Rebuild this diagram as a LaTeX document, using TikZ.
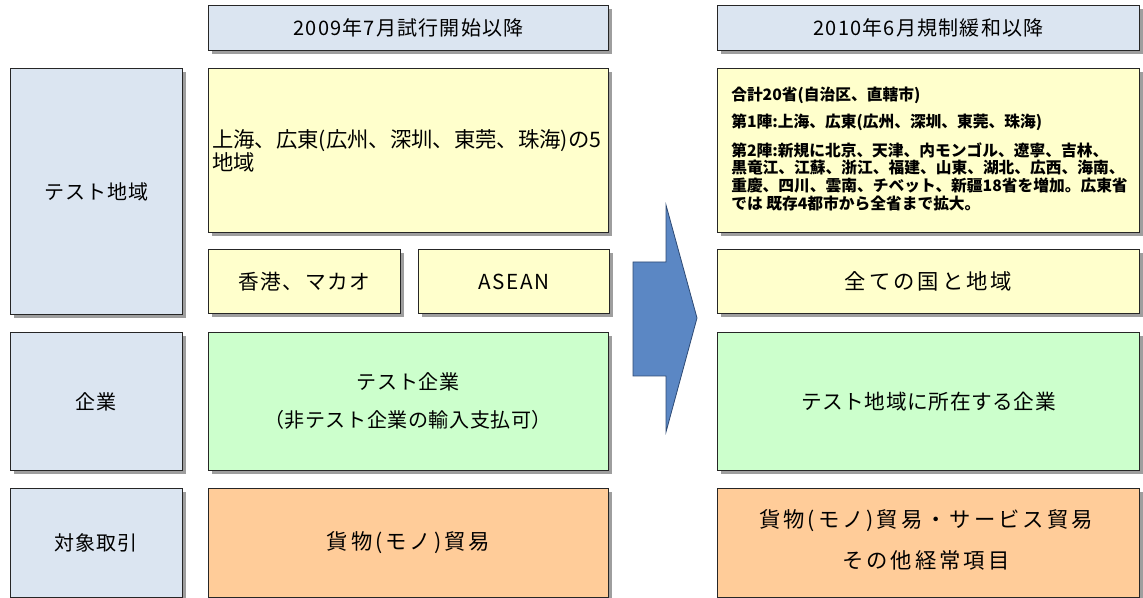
\documentclass[tikz,border=0pt]{standalone}
\usepackage{fontspec}
\setmainfont{Noto Sans CJK JP}
\newfontfamily\jphdr[LetterSpace=6]{Noto Sans CJK JP}
\newfontfamily\jplbl[LetterSpace=5]{Noto Sans CJK JP}
\newfontfamily\jpwide[LetterSpace=14]{Noto Sans CJK JP}
\newfontfamily\jpmed[LetterSpace=8]{Noto Sans CJK JP}
\newfontfamily\jpnarrow[LetterSpace=3]{Noto Sans CJK JP}
\newfontfamily\jpsm{Noto Sans CJK JP}
\usetikzlibrary{shadows}
\definecolor{hdrblue}{HTML}{DBE5F1}
\definecolor{yel}{HTML}{FFFFCC}
\definecolor{grn}{HTML}{CCFFCC}
\definecolor{org}{HTML}{FFCC99}
\definecolor{arrfill}{HTML}{5B87C4}
\definecolor{arrline}{HTML}{2E4A74}
\begin{document}
\begin{tikzpicture}[x=0.75pt,y=-0.75pt,
  bx/.style={draw=black!85, line width=0.7pt, rectangle, inner sep=0pt, anchor=north west,
    drop shadow={shadow xshift=2.4pt, shadow yshift=-2.4pt, fill=black!38, opacity=1}},
  hdr/.style={bx, fill=hdrblue, font=\jphdr\fontsize{15}{18}\selectfont},
  lbl/.style={bx, fill=hdrblue, minimum width=129pt, font=\jplbl\fontsize{15}{18}\selectfont},
  ybox/.style={bx, fill=yel},
  gbox/.style={bx, fill=grn},
  obox/.style={bx, fill=org},
  widetxt/.style={font=\jpwide\fontsize{16}{30.75}\selectfont, align=center},
  medtxt/.style={font=\jpmed\fontsize{15.5}{20}\selectfont, align=center},
  txt/.style={inner sep=0pt}
]
\useasboundingbox (0,0) rectangle (1143,598);
\clip (0,0) rectangle (1143,598);

% left labels
\node[lbl, minimum height=184.5pt] (l1) at (10,68) {テスト地域};
\node[lbl, minimum height=103.5pt] (l2) at (10,332) {企業};
\node[lbl, minimum height=81.75pt] (l3) at (10,488) {対象取引};

% middle column
\node[hdr, minimum width=300pt, minimum height=33.75pt] (h1) at (208,5) {2009年7月試行開始以降};
\node[ybox, minimum width=300pt, minimum height=123pt] (m1) at (208,68) {};
\node[txt, anchor=west, align=left, font=\jpsm\fontsize{16}{15}\selectfont] (m1t) at (212,151)
  {上海、広東(広州、深圳、東莞、珠海)の5\\地域};
\node[ybox, minimum width=144pt, minimum height=48pt, medtxt] (m2) at (208,249) {香港、マカオ};
\node[ybox, minimum width=143.25pt, minimum height=48pt, medtxt] (m3) at (418,249) {ASEAN};
\node[gbox, minimum width=300pt, minimum height=103.5pt] (m4) at (208,332) {};
\node[txt, align=center, font=\jpnarrow\fontsize{15}{28.5}\selectfont] (m4t) at (408,401) {テスト企業\\（非テスト企業の輸入支払可）};
\node[obox, minimum width=300pt, minimum height=81.75pt, widetxt] (m5) at (208,488) {貨物(モノ)貿易};

% arrow
\draw[fill=arrfill, draw=arrline, line width=0.6pt] (633,262) -- (666,262) -- (666,205) -- (697,318)
  -- (666,432) -- (666,376) -- (633,376) -- cycle;

% right column
\node[hdr, minimum width=316.5pt, minimum height=33.75pt] (h2) at (717,5) {2010年6月規制緩和以降};
\node[ybox, minimum width=316.5pt, minimum height=123pt] (r1) at (717,68) {};
\node[txt, anchor=west, align=left, font=\jpsm\bfseries\fontsize{11.8}{13.3}\selectfont] (r1t) at (731,149)
  {合計20省(自治区、直轄市)\\[6.5pt]
   第1陣:上海、広東(広州、深圳、東莞、珠海)\\[8.5pt]
   第2陣:新規に北京、天津、内モンゴル、遼寧、吉林、\\
   黒竜江、江蘇、浙江、福建、山東、湖北、広西、海南、\\
   重慶、四川、雲南、チベット、新疆18省を増加。広東省\\
   では 既存4都市から全省まで拡大。};
\node[ybox, minimum width=316.5pt, minimum height=48pt, widetxt] (r2) at (717,249) {全ての国と地域};
\node[gbox, minimum width=316.5pt, minimum height=103.5pt, font=\jpnarrow\fontsize{15.5}{20}\selectfont] (r3) at (717,332) {テスト地域に所在する企業};
\node[obox, minimum width=316.5pt, minimum height=81.75pt] (r4) at (717,488) {};
\node[txt, widetxt] (r4t) at (926,540) {貨物(モノ)貿易・サービス貿易\\その他経常項目};
\end{tikzpicture}
\end{document}
